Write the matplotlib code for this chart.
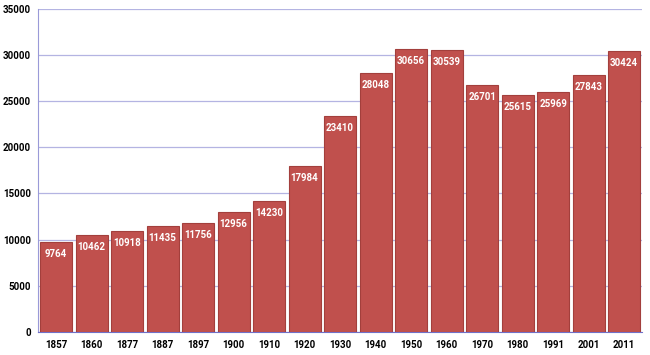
import matplotlib
matplotlib.use("Agg")
import matplotlib.pyplot as plt
import numpy as np

plt.rcParams["font.family"] = ["Roboto", "DejaVu Sans"]

years = ["1857", "1860", "1877", "1887", "1897", "1900", "1910", "1920", "1930",
         "1940", "1950", "1960", "1970", "1980", "1991", "2001", "2011"]
population = [9764, 10462, 10918, 11435, 11756, 12956, 14230, 17984, 23410,
              28048, 30656, 30539, 26701, 25615, 25969, 27843, 30424]

fig = plt.figure(figsize=(6.5, 3.55), dpi=100)
ax = fig.add_axes([0.0585, 0.065, 0.9295, 0.91])

x = np.arange(len(years))
bars = ax.bar(x, population, width=0.9, color="#c0504d", edgecolor="#a33f3c",
              linewidth=0.8, zorder=3)

for xi, val in zip(x, population):
    ax.annotate(str(val), (xi, val), xytext=(0, -12), textcoords="offset pixels",
                ha="center", va="center", color="white", fontsize=7,
                fontweight="bold", zorder=4)

ax.set_xlim(-0.51, len(years) - 0.49)
ax.set_ylim(0, 35000)
ax.set_yticks(np.arange(0, 35001, 5000))
ax.set_xticks(x)
ax.set_xticklabels(years)
ax.tick_params(axis="both", length=0, labelsize=7)
for lab in ax.get_xticklabels() + ax.get_yticklabels():
    lab.set_fontweight("bold")
ax.tick_params(axis="y", pad=5)
ax.tick_params(axis="x", pad=6)

ax.grid(axis="y", color="#b4b4e2", linewidth=0.9, zorder=0)
for side in ["top", "right"]:
    ax.spines[side].set_visible(False)
ax.spines["left"].set_color("#9a9ad8")
ax.spines["bottom"].set_color("#7070c8")

fig.savefig("out.png", dpi=100)
